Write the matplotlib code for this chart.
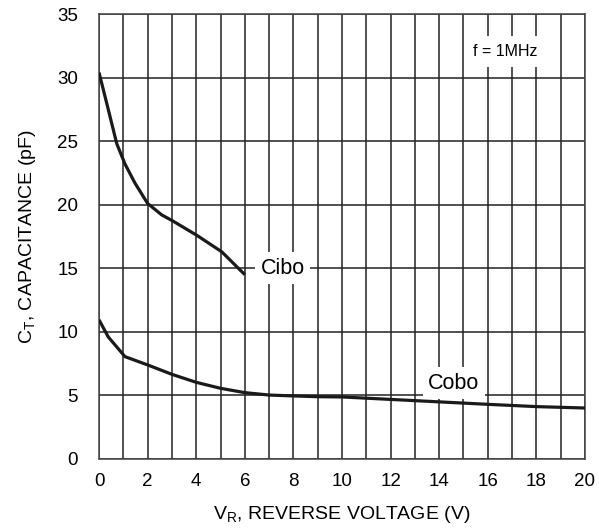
import numpy as np
import matplotlib.pyplot as plt

plt.rcParams['font.family'] = ['Liberation Sans', 'DejaVu Sans']

# Cibo curve (input capacitance)
cibo_v = [0, 0.38, 0.73, 1.07, 1.48, 2.0, 2.58, 3.03, 4.02, 5.05, 6.0]
cibo_c = [30.4, 27.5, 24.8, 23.2, 21.7, 20.1, 19.2, 18.73, 17.6, 16.3, 14.5]

# Cobo curve (output capacitance)
cobo_v = [0, 0.38, 1.07, 2, 3, 4, 5, 6, 7, 8, 9, 10, 13, 16, 18, 20]
cobo_c = [10.95, 9.6, 8.05, 7.4, 6.66, 6.03, 5.56, 5.22, 5.03, 4.96, 4.9, 4.88, 4.59, 4.3, 4.12, 4.01]

xticks = list(range(0, 21, 2))
yticks = list(range(0, 36, 5))

fig = plt.figure(figsize=(5.99, 5.31), dpi=100)
ax = fig.add_axes([0.1653, 0.1356, 0.8113, 0.838])

ax.set_xlim(0, 20)
ax.set_ylim(0, 35)
ax.set_xticks(xticks)
ax.set_yticks(yticks)
ax.set_xticks(range(0, 21), minor=True)
ax.tick_params(which='both', length=0, labelsize=13.5)
ax.tick_params(axis='y', pad=15)
ax.tick_params(axis='x', pad=10)

ax.grid(which='minor', axis='x', color='#222222', lw=1.1)
ax.grid(which='major', axis='both', color='#222222', lw=1.1)
for s in ax.spines.values():
    s.set_color('#444444')
    s.set_linewidth(1.1)

ax.plot(cibo_v, cibo_c, color='#1a1a1a', lw=2.3, zorder=3, solid_capstyle='butt')
ax.plot(cobo_v, cobo_c, color='#1a1a1a', lw=2.3, zorder=3, solid_capstyle='butt')

box = dict(facecolor='white', edgecolor='none', pad=4)
ax.text(7.55, 15.0, 'Cibo', fontsize=15.5, ha='center', va='center', bbox=box, zorder=4)
ax.text(14.6, 5.95, 'Cobo', fontsize=15.5, ha='center', va='center', bbox=box, zorder=4)
ax.text(16.7, 32.05, 'f = 1MHz', fontsize=11.5, ha='center', va='center',
        bbox=dict(facecolor='white', edgecolor='none', pad=6), zorder=4)

ax.set_xlabel('V$_\\mathregular{R}$, REVERSE VOLTAGE (V)', fontsize=14, labelpad=10)
ax.set_ylabel('C$_\\mathregular{T}$, CAPACITANCE (pF)', fontsize=14, labelpad=14)

fig.savefig('out.png', dpi=100)
